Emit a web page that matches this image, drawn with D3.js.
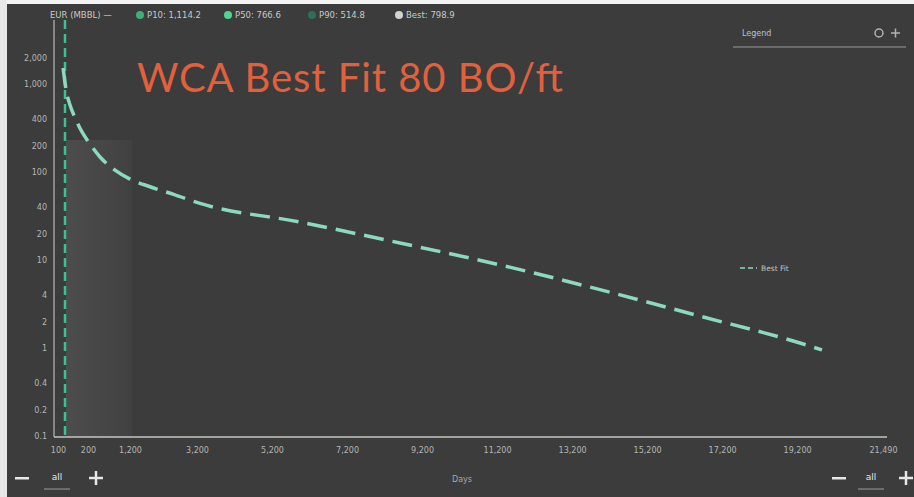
<!DOCTYPE html>
<html>
<head>
<meta charset="utf-8">
<script src="https://d3js.org/d3.v7.min.js"></script>
<style>
  body { margin: 0; background: #3b3c3b; }
  svg { display: block; }
  .tick text { fill: #b4b6b4; font-family: "DejaVu Sans", sans-serif; font-size: 8px; }
</style>
</head>
<body>
<svg width="914" height="497"></svg>
<script>
// header summary (EUR, MBBL)
const eurLabels = ["P10: 1,114.2", "P50: 766.6", "P90: 514.8", "Best: 798.9"];
const eurColors = ["#3fae7c", "#4fd492", "#2f6e58", "#d2d4d2"];

// axis ticks
const yTicks = [0.1, 0.2, 0.4, 1, 2, 4, 10, 20, 40, 100, 200, 400, 1000, 2000];
const xTicks = [100, 200, 1200, 3200, 5200, 7200, 9200, 11200, 13200, 15200, 17200, 19200, 21490];

// best fit decline curve (days, BO/day)
const fitDays = [117, 127, 140, 157, 180, 248, 486, 843, 1200, 1797, 2543, 3280, 5946, 8612, 11278, 13945, 16611, 19277, 19864];
const fitRate = [1520, 855, 577, 411, 285, 208, 148, 105, 83, 68, 55, 44, 27, 15.6, 8.8, 4.6, 2.3, 1.14, 0.95];
const startDay = 120;

const svg = d3.select("svg");

// white page edges of the screenshot
svg.append("rect").attr("x", 0).attr("y", 0).attr("width", 914).attr("height", 4).attr("fill", "#f4f4f4");
svg.append("rect").attr("x", 0).attr("y", 0).attr("width", 7).attr("height", 497).attr("fill", "#e8e8e8");

// x axis is stretched near the origin, so a piecewise linear scale
const x = d3.scaleLinear()
  .domain([100, 200, 1200, 3200, 21490])
  .range([58, 88, 130, 197, 883]);
const y = d3.scaleLog().domain([0.1, 2000]).range([436, 57.5]);

// shaded early-time band
const band = svg.append("defs").append("linearGradient").attr("id", "band").attr("x1", 0).attr("x2", 1);
band.append("stop").attr("offset", 0).attr("stop-color", "#5c5d5c").attr("stop-opacity", 0.5);
band.append("stop").attr("offset", 1).attr("stop-color", "#5c5d5c").attr("stop-opacity", 0.15);
svg.append("rect")
  .attr("x", x(startDay) + 2).attr("y", 140)
  .attr("width", x(1200) - x(startDay)).attr("height", 437 - 140)
  .attr("fill", "url(#band)");

// axes
const yAxis = svg.append("g").attr("transform", "translate(50,0)")
  .call(d3.axisLeft(y).tickValues(yTicks).tickFormat(d3.format(",")).tickSize(0).tickPadding(3));
yAxis.select(".domain").remove();

const xAxis = svg.append("g").attr("transform", "translate(0,441)")
  .call(d3.axisBottom(x).tickValues(xTicks).tickFormat(d3.format(",")).tickSize(0).tickPadding(6));
xAxis.select(".domain").remove();

svg.append("line").attr("x1", 54).attr("x2", 54).attr("y1", 20).attr("y2", 437)
  .attr("stroke", "#b8bab8").attr("stroke-width", 1.2);
svg.append("line").attr("x1", 54).attr("x2", 887).attr("y1", 437).attr("y2", 437)
  .attr("stroke", "#c4c6c4").attr("stroke-width", 1.5);

// vertical start marker
svg.append("line")
  .attr("x1", x(startDay) + 1).attr("x2", x(startDay) + 1).attr("y1", 20).attr("y2", 437)
  .attr("stroke", "#3fbf93").attr("stroke-width", 2.5).attr("stroke-dasharray", "9,5");

// best fit curve
const pts = fitDays.map((d, i) => [d, fitRate[i]]);
svg.append("path")
  .datum(pts)
  .attr("fill", "none")
  .attr("stroke", "#8ad9c0")
  .attr("stroke-width", 3.5)
  .attr("stroke-dasharray", "20,9")
  .attr("d", d3.line().x(d => x(d[0])).y(d => y(d[1])).curve(d3.curveMonotoneX));

// header
const hdr = svg.append("g").attr("font-family", "DejaVu Sans, sans-serif").attr("font-size", 8.5).attr("fill", "#c8cac8");
hdr.append("text").attr("x", 50).attr("y", 18).text("EUR (MBBL) \u2014");
const hx = [140, 228, 312, 399];
eurLabels.forEach((t, i) => {
  hdr.append("circle").attr("cx", hx[i]).attr("cy", 15).attr("r", 4).attr("fill", eurColors[i]);
  hdr.append("text").attr("x", hx[i] + 7).attr("y", 18).text(t);
});

// title
svg.append("text")
  .attr("x", 137).attr("y", 92)
  .attr("font-family", "Lato, sans-serif").attr("font-size", 40)
  .attr("fill", "#e0613c")
  .attr("textLength", 426)
  .text("WCA Best Fit 80 BO/ft");

// legend panel
svg.append("text").attr("x", 742).attr("y", 36)
  .attr("font-family", "DejaVu Sans, sans-serif").attr("font-size", 8).attr("fill", "#c0c2c0").text("Legend");
svg.append("line").attr("x1", 733).attr("x2", 906).attr("y1", 47).attr("y2", 47)
  .attr("stroke", "#9a9c9a").attr("stroke-width", 1);
svg.append("circle").attr("cx", 879).attr("cy", 33).attr("r", 4).attr("fill", "none").attr("stroke", "#b0b2b0").attr("stroke-width", 1.5);
svg.append("path").attr("d", "M891,33 h9 M895.5,28.5 v9").attr("stroke", "#b0b2b0").attr("stroke-width", 1.5);
svg.append("line").attr("x1", 740).attr("x2", 757).attr("y1", 268).attr("y2", 268)
  .attr("stroke", "#8ad9c0").attr("stroke-width", 1.5).attr("stroke-dasharray", "5,3");
svg.append("text").attr("x", 761).attr("y", 271)
  .attr("font-family", "DejaVu Sans, sans-serif").attr("font-size", 7.5).attr("fill", "#c0c2c0").text("Best Fit");

// bottom zoom controls
const ctl = svg.append("g").attr("fill", "#e6e8e6").attr("font-family", "DejaVu Sans, sans-serif");
[[22, 57, 96], [839, 871, 906]].forEach(c => {
  ctl.append("rect").attr("x", c[0] - 7).attr("y", 477).attr("width", 14).attr("height", 2.5);
  ctl.append("text").attr("x", c[1]).attr("y", 480).attr("text-anchor", "middle").attr("font-size", 9).text("all");
  ctl.append("line").attr("x1", c[1] - 13).attr("x2", c[1] + 13).attr("y1", 489).attr("y2", 489)
    .attr("stroke", "#9a9c9a").attr("stroke-width", 1);
  ctl.append("path").attr("d", `M${c[2] - 7},478 h14 M${c[2]},471 v14`).attr("stroke", "#e6e8e6").attr("stroke-width", 2.5);
});
svg.append("text").attr("x", 462).attr("y", 482).attr("text-anchor", "middle")
  .attr("font-family", "DejaVu Sans, sans-serif").attr("font-size", 8).attr("fill", "#a8aaa8").text("Days");
</script>
</body>
</html>
